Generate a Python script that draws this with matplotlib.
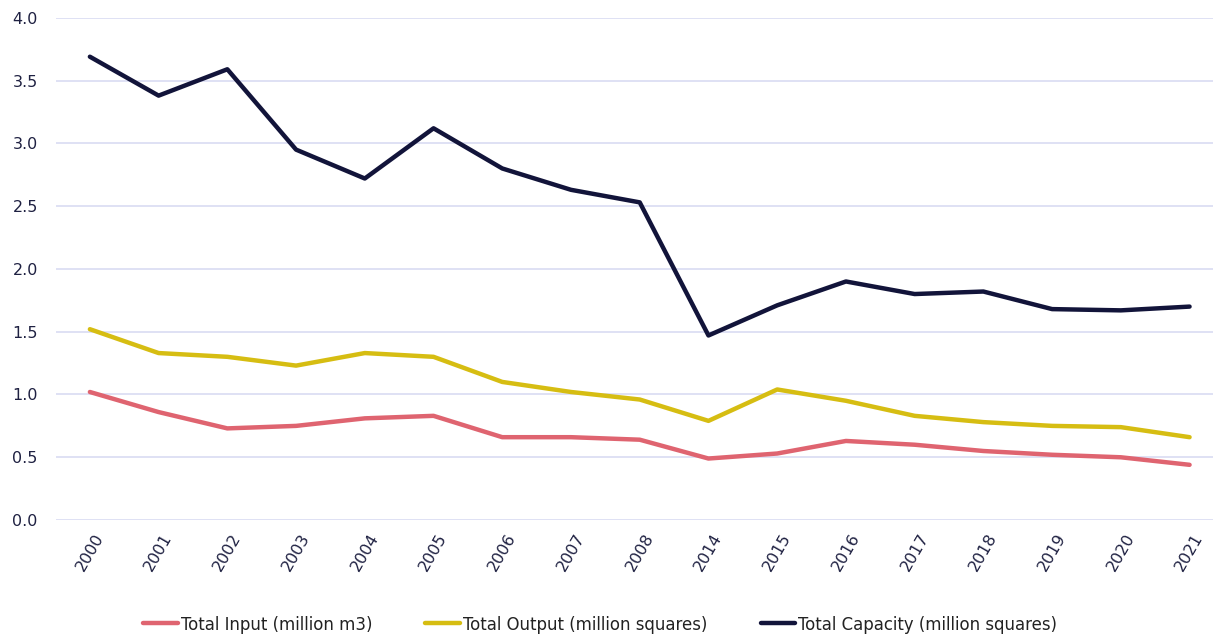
import matplotlib.pyplot as plt
import numpy as np

years = ['2000', '2001', '2002', '2003', '2004', '2005', '2006', '2007', '2008',
         '2014', '2015', '2016', '2017', '2018', '2019', '2020', '2021']
total_input = [1.02, 0.86, 0.73, 0.75, 0.81, 0.83, 0.66, 0.66, 0.64,
               0.49, 0.53, 0.63, 0.60, 0.55, 0.52, 0.50, 0.44]
total_output = [1.52, 1.33, 1.30, 1.23, 1.33, 1.30, 1.10, 1.02, 0.96,
                0.79, 1.04, 0.95, 0.83, 0.78, 0.75, 0.74, 0.66]
total_capacity = [3.69, 3.38, 3.59, 2.95, 2.72, 3.12, 2.80, 2.63, 2.53,
                  1.47, 1.71, 1.90, 1.80, 1.82, 1.68, 1.67, 1.70]

text_col = '#1f2142'
fig = plt.figure(figsize=(12.15, 6.35), dpi=100)
ax = fig.add_axes([0.046, 0.181, 0.952, 0.791])

x = np.arange(len(years))
ax.plot(x, total_input, color='#df6470', lw=3.2, solid_capstyle='round', label='Total Input (million m3)')
ax.plot(x, total_output, color='#d6bd12', lw=3.2, solid_capstyle='round', label='Total Output (million squares)')
ax.plot(x, total_capacity, color='#12143a', lw=3.2, solid_capstyle='round', label='Total Capacity (million squares)')

ax.set_xlim(-0.4945, 16.3345)
ax.set_ylim(0, 4.0)
ax.set_yticks(np.arange(0, 4.01, 0.5))
ax.set_yticklabels([f'{v:.1f}' for v in np.arange(0, 4.01, 0.5)])
ax.set_xticks(x)
ax.set_xticklabels(years, rotation=60, ha='center', va='top')
ax.tick_params(axis='both', length=0, colors=text_col, labelsize=11.5)
ax.tick_params(axis='y', pad=13)
ax.tick_params(axis='x', pad=8)

ax.grid(axis='y', color='#d9dcf2', lw=1.2)
ax.set_axisbelow(True)
for s in ax.spines.values():
    s.set_visible(False)

leg = fig.legend(loc='center', bbox_to_anchor=(0.494, 0.016), ncol=3, frameon=False,
                 handlelength=1.9, handletextpad=0.15, columnspacing=2.9,
                 prop={'family': 'DejaVu Sans', 'stretch': 'condensed', 'size': 13.2})
for t in leg.get_texts():
    t.set_color('#222222')

fig.savefig('out.png', dpi=100)
